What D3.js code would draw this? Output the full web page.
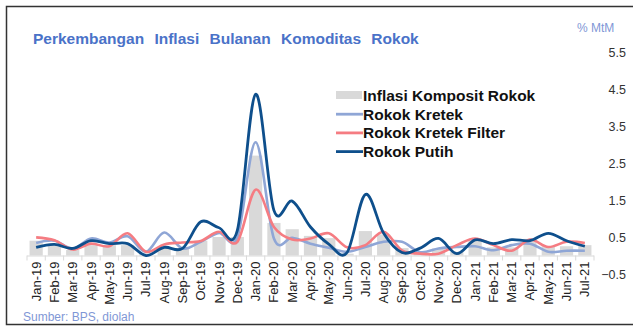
<!DOCTYPE html>
<html>
<head>
<meta charset="utf-8">
<script src="https://cdn.jsdelivr.net/npm/d3@7"></script>
<style>
  html, body { margin: 0; padding: 0; background: #fff; }
  svg { display: block; font-family: Arial, "Liberation Sans", sans-serif; }
</style>
</head>
<body>
<svg id="chart" width="633" height="327"></svg>
<script>
// Monthly periods
const months = ["Jan-19","Feb-19","Mar-19","Apr-19","May-19","Jun-19","Jul-19","Aug-19","Sep-19","Oct-19","Nov-19","Dec-19",
                "Jan-20","Feb-20","Mar-20","Apr-20","May-20","Jun-20","Jul-20","Aug-20","Sep-20","Oct-20","Nov-20","Dec-20",
                "Jan-21","Feb-21","Mar-21","Apr-21","May-21","Jun-21","Jul-21"];

// Inflasi Komposit Rokok (% MtM), bars
const komposit = [0.40,0.32,0.15,0.28,0.28,0.28,0.05,0.23,0.20,0.40,0.50,0.50,
                  2.70,0.88,0.71,0.53,0.47,0.05,0.66,0.57,0.20,0.05,0.19,0.10,
                  0.40,0.22,0.22,0.45,0.25,0.25,0.28];
// Rokok Kretek
const kretek = [0.34,0.40,0.19,0.46,0.35,0.52,0.10,0.62,0.19,0.37,0.61,0.49,
                3.06,0.46,0.48,0.32,0.21,0.10,0.23,0.37,0.37,0.09,0.19,0.23,
                0.25,0.14,0.28,0.32,0.10,0.13,0.13];
// Rokok Kretek Filter
const kretekFilter = [0.49,0.41,0.16,0.32,0.25,0.60,0.10,0.30,0.35,0.39,0.64,0.37,
                      1.78,0.77,0.43,0.46,0.60,0.22,0.28,0.64,0.14,0.05,0.05,0.28,
                      0.46,0.28,0.13,0.43,0.23,0.37,0.34];
// Rokok Putih
const putih = [0.22,0.30,0.19,0.40,0.32,0.32,0.00,0.22,0.19,0.91,0.75,0.68,
               4.36,1.22,1.47,0.77,0.31,0.08,1.65,0.60,0.08,0.20,0.46,0.05,
               0.42,0.32,0.43,0.40,0.60,0.40,0.25];

const yTicks = [-0.5, 0.5, 1.5, 2.5, 3.5, 4.5, 5.5];

const seriesNames = ["Inflasi Komposit Rokok", "Rokok Kretek", "Rokok Kretek Filter", "Rokok Putih"];
const colors = { bar: "#d9d9d9", kretek: "#8fa6d6", filter: "#f57c82", putih: "#0e4f8c" };

const svg = d3.select("#chart");

// Outer frame
svg.append("rect")
  .attr("x", 6.5).attr("y", 6.5).attr("width", 640).attr("height", 318)
  .attr("fill", "none").attr("stroke", "#333").attr("stroke-width", 1.5);

// Scales
const xStep = d3.scaleBand().domain(months).range([27, 594]);
const y = d3.scaleLinear().domain([-0.5, 5.5]).range([274, 52]);
const cx = d => xStep(d) + xStep.bandwidth() / 2;

// Bars
svg.append("g").selectAll("rect")
  .data(komposit)
  .join("rect")
  .attr("x", (d, i) => cx(months[i]) - 6.6)
  .attr("width", 13.2)
  .attr("y", d => y(Math.max(0, d)))
  .attr("height", d => Math.abs(y(d) - y(0)))
  .attr("fill", colors.bar);

// Category axis at zero
const xAxisG = svg.append("g").attr("transform", `translate(0,${y(0)})`);
xAxisG.append("line")
  .attr("x1", 27).attr("x2", 594).attr("y1", 0.5).attr("y2", 0.5)
  .attr("stroke", "#d9d9d9").attr("stroke-width", 1);
xAxisG.selectAll("line.tick")
  .data(d3.range(months.length + 1))
  .join("line")
  .attr("class", "tick")
  .attr("x1", i => 27 + i * xStep.step()).attr("x2", i => 27 + i * xStep.step())
  .attr("y1", 0).attr("y2", 5)
  .attr("stroke", "#d9d9d9");

// Rotated month labels
svg.append("g").selectAll("text")
  .data(months)
  .join("text")
  .attr("transform", d => `translate(${cx(d) + 4.5},${y(0) + 6}) rotate(-90)`)
  .attr("text-anchor", "end")
  .attr("font-size", 13)
  .attr("fill", "#222")
  .text(d => d);

// Value axis on the right
svg.append("g").selectAll("text")
  .data(yTicks)
  .join("text")
  .attr("x", 626)
  .attr("y", d => y(d) + 4.5)
  .attr("text-anchor", "end")
  .attr("font-size", 12.5)
  .attr("fill", "#333")
  .text(d => d3.format(".1f")(d));

// Smoothed lines
const line = d3.line()
  .x((d, i) => cx(months[i]))
  .y(d => y(d))
  .curve(d3.curveCardinal.tension(0));

[[kretek, colors.kretek, 2.6], [kretekFilter, colors.filter, 2.6], [putih, colors.putih, 2.8]]
  .forEach(([vals, col, w]) => {
    svg.append("path")
      .attr("d", line(vals))
      .attr("fill", "none")
      .attr("stroke", col)
      .attr("stroke-width", w)
      .attr("stroke-linejoin", "round");
  });

// Title and unit
svg.append("text")
  .attr("x", 33).attr("y", 44)
  .attr("font-size", 15.5).attr("font-weight", "bold")
  .attr("fill", "#4a72c8")
  .attr("word-spacing", 6)
  .text("Perkembangan Inflasi Bulanan Komoditas Rokok");

svg.append("text")
  .attr("x", 577).attr("y", 32)
  .attr("font-size", 12).attr("fill", "#7f97d6")
  .text("% MtM");

// Source note
svg.append("text")
  .attr("x", 23).attr("y", 321)
  .attr("font-size", 12).attr("fill", "#7f97d6")
  .text("Sumber: BPS, diolah");

// Legend
const legend = svg.append("g");
const legendRows = [
  { name: seriesNames[0], type: "bar", color: colors.bar },
  { name: seriesNames[1], type: "line", color: colors.kretek },
  { name: seriesNames[2], type: "line", color: colors.filter },
  { name: seriesNames[3], type: "line", color: colors.putih }
];
legendRows.forEach((r, i) => {
  const ly = 95.5 + i * 18.7;
  if (r.type === "bar") {
    legend.append("rect").attr("x", 336).attr("y", ly - 4.5).attr("width", 26).attr("height", 8).attr("fill", r.color);
  } else {
    legend.append("line").attr("x1", 336).attr("x2", 363).attr("y1", ly).attr("y2", ly)
      .attr("stroke", r.color).attr("stroke-width", 2.8);
  }
  legend.append("text")
    .attr("x", 363).attr("y", ly + 5.5)
    .attr("font-size", 15.5).attr("font-weight", "bold").attr("fill", "#111")
    .text(r.name);
});
</script>
</body>
</html>
